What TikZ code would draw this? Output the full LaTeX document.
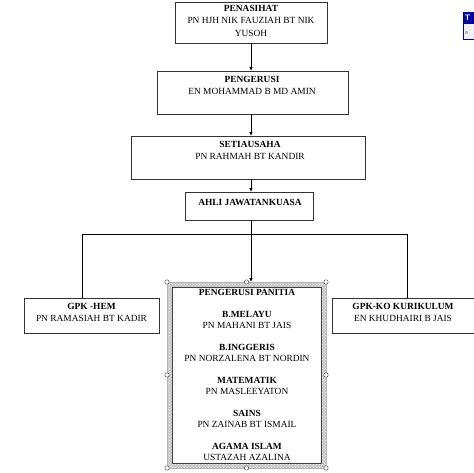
\documentclass[tikz,border=0pt]{standalone}
\usepackage{fontspec}
\setmainfont{Liberation Serif}
\usetikzlibrary{arrows.meta,patterns}
\begin{document}
\begin{tikzpicture}[x=1pt,y=-1pt,
  box/.style={draw=black!80, line width=0.9pt, inner sep=0pt, outer sep=0pt, fill=white},
  txt/.style={align=center, inner sep=0pt, font=\fontsize{9.4}{12.5}\selectfont},
  ptxt/.style={align=center, inner sep=0pt, font=\fontsize{9.4}{11}\selectfont},
  link/.style={draw=black, line width=0.8pt},
  arr/.style={link, -{Latex[length=4pt,width=3.5pt]}},
  handle/.style={circle, draw=gray!70!black, fill=white, line width=0.5pt, inner sep=0pt, minimum size=4.4pt}]
\useasboundingbox (0,0) rectangle (474,472);
\fill[white] (0,0) rectangle (474,472);

% boxes
\node[box, minimum width=152pt, minimum height=41pt] (b1) at (251,22.5) {};
\node[txt] (t1) at (251,20.7) {\textbf{PENASIHAT}\\PN HJH NIK FAUZIAH BT NIK\\YUSOH};

\node[box, minimum width=191pt, minimum height=43pt] (b2) at (252.5,92.5) {};
\node[txt] (t2) at (252,85.5) {\textbf{PENGERUSI}\\EN MOHAMMAD B MD AMIN};

\node[box, minimum width=234pt, minimum height=43pt] (b3) at (248,157.5) {};
\node[txt] (t3) at (250,150.5) {\textbf{SETIAUSAHA}\\PN RAHMAH BT KANDIR};

\node[box, minimum width=128pt, minimum height=28pt] (b4) at (249,206) {};
\node[txt] (t4) at (250,202.5) {\textbf{AHLI JAWATANKUASA}};

\node[box, minimum width=135pt, minimum height=35pt] (hem) at (91.5,315.5) {};
\node[txt] (them) at (91.5,312.5) {\textbf{GPK -HEM}\\PN RAMASIAH BT KADIR};

\node[box, minimum width=158pt, minimum height=35pt] (ko) at (411,315.5) {};
\node[txt] (tko) at (403,312.5) {\textbf{GPK-KO KURIKULUM}\\EN KHUDHAIRI B JAIS};

% panitia frame
\node[minimum width=159pt, minimum height=186pt, inner sep=0pt, outer sep=0pt] (frame) at (246.5,375) {};
\fill[gray!45, even odd rule] (frame.north west) rectangle (frame.south east)
  ([xshift=5pt,yshift=-5pt]frame.north west) rectangle ([xshift=-5pt,yshift=5pt]frame.south east);
\fill[pattern=crosshatch dots, pattern color=white, even odd rule] (frame.north west) rectangle (frame.south east)
  ([xshift=5pt,yshift=-5pt]frame.north west) rectangle ([xshift=-5pt,yshift=5pt]frame.south east);
\draw[gray!60, line width=0.5pt] (frame.north west) rectangle (frame.south east);
\draw[black!75, line width=0.7pt] ([xshift=5pt,yshift=-5pt]frame.north west) rectangle ([xshift=-5pt,yshift=5pt]frame.south east);
\node[ptxt] (tp) at (247,375) {\textbf{PENGERUSI PANITIA}\\[11pt]
  \textbf{B.MELAYU}\\PN MAHANI BT JAIS\\[11pt]
  \textbf{B.INGGERIS}\\PN NORZALENA BT NORDIN\\[11pt]
  \textbf{MATEMATIK}\\PN MASLEEYATON\\[11pt]
  \textbf{SAINS}\\PN ZAINAB BT ISMAIL\\[11pt]
  \textbf{AGAMA ISLAM}\\USTAZAH AZALINA};

% connectors
\draw[arr] (b1.south) -- (b1.south |- b2.north);
\draw[arr] (b2.south -| b1.south) -- (b1.south |- b3.north);
\draw[arr] (b3.south -| b1.south) -- (b1.south |- b4.north);
\draw[arr] (b4.south -| b1.south) -- (b1.south |- frame.north);
\coordinate (hl) at (82,234);
\coordinate (hr) at (407,234);
\draw[link] (hl |- hem.north) -- (hl) -- (hr) -- (hr |- ko.north);

% handles
\foreach \a in {north west,north,north east,east,south east,south,south west,west}
  \node[handle] at (frame.\a) {};

% partial icon at top right
\node[draw=blue!70!black, fill=gray!10, line width=0.6pt, minimum width=14pt, minimum height=27pt, inner sep=0pt] (icon) at (470,25.5) {};
\fill[blue!65!black] (icon.north west) rectangle ([yshift=-12pt]icon.north east);
\node[text=white, font=\sffamily\bfseries\fontsize{8}{8}\selectfont, inner sep=0pt] (iconT) at (467.5,18) {T};
\fill[gray!50] (464.5,31) rectangle (468,34);
\end{tikzpicture}
\end{document}
